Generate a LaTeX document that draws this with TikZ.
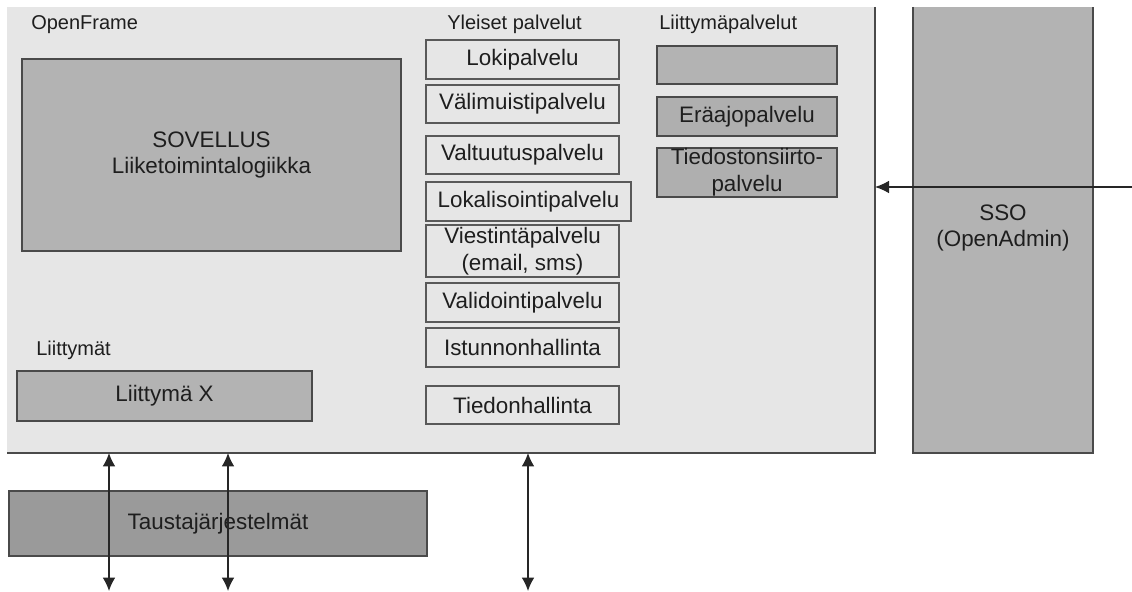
\documentclass[tikz,border=0pt]{standalone}
\usepackage{fontspec}
\setmainfont{Liberation Sans}
\usetikzlibrary{arrows.meta}

\definecolor{framefill}{HTML}{E6E6E6}
\definecolor{boxfill}{HTML}{B3B3B3}
\definecolor{portfill}{HTML}{AFAFAF}
\definecolor{backfill}{HTML}{9A9A9A}
\definecolor{edge}{HTML}{4A4A4A}
\definecolor{softedge}{HTML}{595959}
\definecolor{ink}{HTML}{1E1E1E}

\tikzset{
  % rectangle node given by its corners (x1,y1) and (x2,y2), in pixel units
  rect/.style n args={4}{
    rectangle, inner sep=0pt, outer sep=0pt,
    minimum width={(#3-#1)*0.75pt}, minimum height={(#4-#2)*0.75pt},
    at={({(#1+#3)/2},{(#2+#4)/2})}},
  boxtext/.style={font=\fontsize{16.8}{20}\selectfont, text=ink, align=center},
  grouplabel/.style={font=\fontsize{15}{18}\selectfont, text=ink, anchor=west, inner sep=0pt},
  service/.style={boxtext, fill=framefill, draw=softedge, line width=1pt},
  solidbox/.style={boxtext, fill=boxfill, draw=edge, line width=1pt},
  edgeline/.style={draw=edge, line width=1.5pt},
  link/.style={draw=black!85, line width=1pt, {Latex[length=10pt,width=9.5pt]}-{Latex[length=10pt,width=9.5pt]}},
  inlink/.style={draw=black!85, line width=1pt, -{Latex[length=10.5pt,width=9.5pt]}}
}

\begin{document}
\begin{tikzpicture}[x=0.75pt, y=-0.75pt]
\useasboundingbox (0,0) rectangle (1132,592);

% OpenFrame container and the SSO column
\node[rect={7}{7}{875}{453}, fill=framefill] (frame) {};
\draw[edgeline] (frame.north east) -- (frame.south east) -- (frame.south west);
\node[rect={913}{7}{1093}{453}, fill=boxfill] (sso) {};
\draw[edgeline, line width=1pt] (sso.north west) -- (sso.south west) -- (sso.south east) -- (sso.north east);
\node[boxtext, at={(1003,228)}] (ssotext) {SSO\\(OpenAdmin)};

% group labels
\node[grouplabel] (lblframe) at (31,25) {OpenFrame};
\node[grouplabel] (lblcommon) at (447,24) {Yleiset palvelut};
\node[grouplabel] (lblportsvc) at (659,24) {Liittymäpalvelut};
\node[grouplabel] (lblports) at (36,350) {Liittymät};

% application
\node[solidbox, rect={22}{59}{401}{251}] (app) {SOVELLUS\\Liiketoimintalogiikka};

% common services
\node[service, rect={426}{40}{619}{79}] (loki) {Lokipalvelu};
\node[service, rect={426}{85}{619}{123}] (cache) {Välimuistipalvelu};
\node[service, rect={426}{136}{619}{174}] (auth) {Valtuutuspalvelu};
\node[service, rect={426}{182}{631}{221}] (l10n) {Lokalisointipalvelu};
\node[service, rect={426}{225}{619}{277}] (msg) {Viestintäpalvelu\\(email, sms)};
\node[service, rect={426}{283}{619}{322}] (valid) {Validointipalvelu};
\node[service, rect={426}{328}{619}{367}] (session) {Istunnonhallinta};
\node[service, rect={426}{386}{619}{424}] (data) {Tiedonhallinta};

% interface services
\node[solidbox, rect={657}{46}{837}{84}] (ifempty) {};
\node[solidbox, fill=portfill, rect={657}{97}{837}{136}] (batch) {Eräajopalvelu};
\node[solidbox, fill=portfill, rect={657}{148}{837}{197}] (transfer) {Tiedostonsiirto-\\palvelu};

% interfaces
\node[solidbox, rect={17}{371}{312}{421}] (portx) {Liittymä X};

% back-end systems
\node[solidbox, fill=backfill, rect={9}{491}{427}{556}] (backend) {Taustajärjestelmät};

% connectors
\coordinate (out1) at (109,591);
\coordinate (out2) at (228,591);
\coordinate (out3) at (528,591);
\coordinate (ssoin) at (1132,187);
\draw[link] (frame.south -| out1) -- (out1);
\draw[link] (frame.south -| out2) -- (out2);
\draw[link] (frame.south -| out3) -- (out3);
\draw[inlink] (ssoin) -- (ssoin -| frame.east);
\end{tikzpicture}
\end{document}
